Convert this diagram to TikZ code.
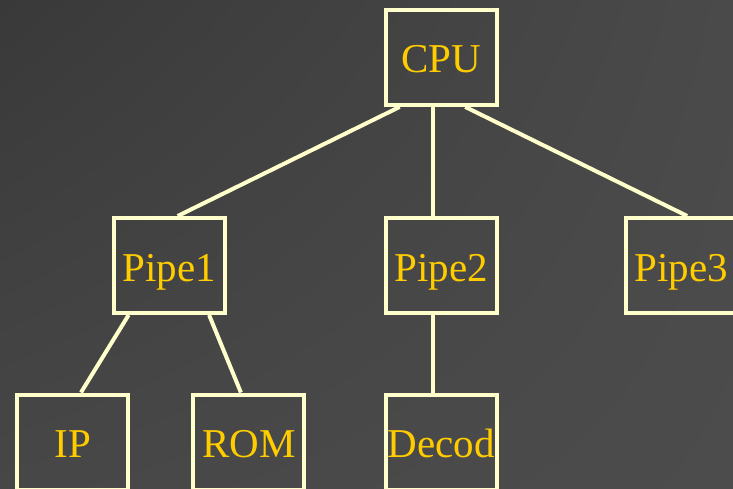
\documentclass[tikz,border=0pt]{standalone}
\usepackage{fontspec}
\setmainfont{Liberation Serif}
\usetikzlibrary{shadings}
\definecolor{edgecol}{HTML}{FFFFCC}
\definecolor{labelcol}{HTML}{FFCC00}
\definecolor{bgA}{HTML}{393939}
\definecolor{bgB}{HTML}{4A4A4A}
\definecolor{bgC}{HTML}{474747}
\definecolor{bgD}{HTML}{4C4C4C}
\begin{document}
\begin{tikzpicture}[x=1pt,y=-1pt,
  unit/.style={draw=edgecol, line width=4pt, rectangle, inner sep=0pt,
    minimum width=111pt, minimum height=95pt,
    text height=31pt, text depth=0pt, text=labelcol,
    font=\fontsize{41}{41}\selectfont},
  link/.style={draw=edgecol, line width=4pt}]
  % page area and background
  \clip (0,0) rectangle (733,489);
  \shade[upper left=bgA, upper right=bgB, lower left=bgC, lower right=bgD]
    (0,0) rectangle (733,489);

  % hierarchy boxes
  \node[unit] (cpu)   at (441.1, 57.4)  {CPU};
  \node[unit] (pipe1) at (169.1, 265.5) {Pipe1};
  \node[unit] (pipe2) at (441.1, 265.5) {Pipe2};
  \node[unit] (pipe3) at (681.0, 265.5) {Pipe3};
  \node[unit] (ip)    at (72.8, 442.0)  {IP};
  \node[unit] (rom)   at (248.9, 442.0) {ROM};
  \node[unit] (decod) at (441.1, 442.0) {Decod};

  % connections
  \draw[link] ([xshift=-41.4pt]cpu.south) -- ([xshift=8.6pt]pipe1.north);
  \draw[link] ([xshift=-7.7pt]cpu.south) -- ([xshift=-7.7pt]pipe2.north);
  \draw[link] ([xshift=24.1pt]cpu.south) -- ([xshift=6.2pt]pipe3.north);
  \draw[link] ([xshift=-40.5pt]pipe1.south) -- ([xshift=8.2pt]ip.north);
  \draw[link] ([xshift=40pt]pipe1.south) -- ([xshift=-8pt]rom.north);
  \draw[link] ([xshift=-7.7pt]pipe2.south) -- ([xshift=-7.7pt]decod.north);
\end{tikzpicture}
\end{document}
